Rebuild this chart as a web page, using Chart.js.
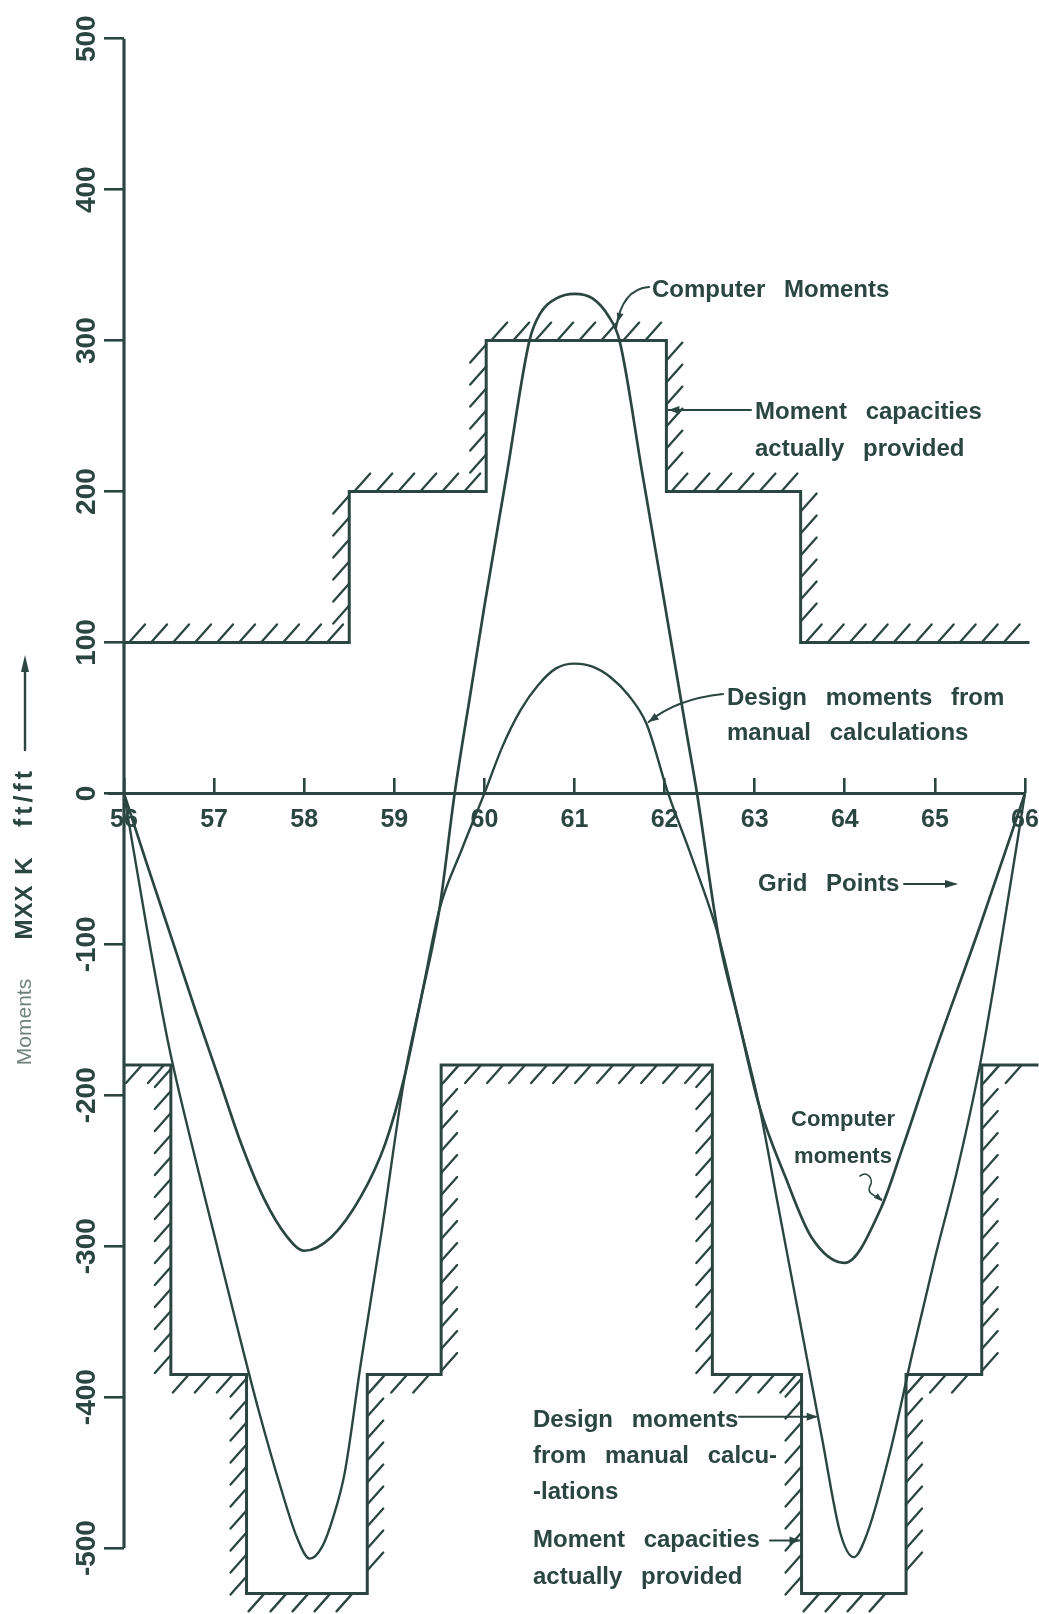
<!DOCTYPE html>
<html>
<head>
<meta charset="utf-8">
<script src="https://cdn.jsdelivr.net/npm/chart.js@4/dist/chart.umd.min.js"></script>
<style>
  html, body { margin: 0; padding: 0; background: #ffffff; }
  #wrap { position: relative; width: 1039px; height: 1614px; }
</style>
</head>
<body>
<div id="wrap"><canvas id="c"></canvas></div>
<script>
// ---------------- data ----------------
const gridPoints = [56, 57, 58, 59, 60, 61, 62, 63, 64, 65, 66];
const xTickLabels = ['56', '57', '58', '59', '60', '61', '62', '63', '64', '65', '66'];
const yTickValues = [-500, -400, -300, -200, -100, 0, 100, 200, 300, 400, 500];
const yTickLabels = ['-500', '-400', '-300', '-200', '-100', '0', '100', '200', '300', '400', '500'];

// Computer moments (MXX, K ft/ft)
const computerX = [56.0, 56.25, 56.54, 56.8, 57.06, 57.3, 57.55, 57.8, 58.0, 58.3, 58.63, 58.9, 59.12, 59.3, 59.5, 59.67,
  59.85, 60.0, 60.25, 60.5, 60.62, 60.8, 61.0, 61.2, 61.38, 61.5, 61.75, 62.0, 62.25, 62.36,
  62.6, 62.82, 63.05, 63.34, 63.63, 64.0, 64.4, 64.64, 64.95, 65.5, 66.0];
const computerY = [0, -46, -98, -145, -190, -232, -268, -293, -303, -294, -267, -232, -186, -135, -77, 0,
  68, 124, 212, 300, 318, 328, 331, 328, 316, 300, 213, 126, 38, 0,
  -95, -150, -207, -254, -294, -311, -275, -235, -180, -88, 0];

// Design moments from manual calculations
const designX = [56.0, 56.25, 56.5, 56.75, 57.0, 57.25, 57.5, 57.75, 57.92, 58.06, 58.2, 58.32, 58.45, 58.63, 58.85,
  59.12, 59.3, 59.5, 59.75, 60.0, 60.2, 60.4, 60.6, 60.8, 61.0, 61.2, 61.4, 61.6, 61.8, 62.04,
  62.3, 62.6, 62.82, 63.05, 63.25, 63.5, 63.75, 63.95, 64.1, 64.25, 64.5, 64.75, 65.0, 65.25, 65.5, 65.75, 66.0];
const designY = [0, -88, -168, -232, -292, -352, -410, -462, -493, -507, -499, -480, -450, -377, -294,
  -186, -135, -77, -37, 0, 31, 55, 72, 83, 86, 84, 77, 65, 46, 0,
  -42, -95, -150, -207, -270, -349, -428, -490, -506, -490, -437, -371, -308, -249, -180, -93, 0];

// Moment capacities actually provided (step functions)
const posCapEdges = [56, 58.5, 60.02, 62.02, 63.51, 66.05];
const posCapValues = [100, 200, 300, 200, 100];
const negCapEdges = [56, 56.52, 57.36, 58.7, 59.52, 62.53, 63.52, 64.68, 65.52, 66.15];
const negCapValues = [-180, -385, -530, -385, -180, -385, -530, -385, -180];

// axis extents drawn as lines
const yAxisSpan = [-500, 500];
const xAxisSpan = [55.82, 66];

// ---------------- helpers ----------------
const INK = '#2b4641';
const FAINT = '#6f827e';
const FONT = '"Liberation Sans", Arial, sans-serif';

function pairs(xs, ys) { return xs.map((v, i) => ({ x: v, y: ys[i] })); }
function stepPoints(edges, values) {
  const pts = values.map((v, i) => ({ x: edges[i], y: v }));
  pts.push({ x: edges[edges.length - 1], y: values[values.length - 1] });
  return pts;
}

function hatch(ctx, xs, ys, edges, values, side) {
  const dx = 16, dy = 18, gap = 22;
  for (let i = 0; i < values.length; i++) {
    const x0 = xs.getPixelForValue(edges[i]);
    const x1 = xs.getPixelForValue(edges[i + 1]);
    const yy = ys.getPixelForValue(values[i]);
    if (side > 0) {
      for (let px = x0 + 5; px <= x1 - dx + 1; px += gap) { ctx.moveTo(px, yy); ctx.lineTo(px + dx, yy - dy); }
    } else {
      for (let px = x0 + dx + 2; px <= x1 - 3; px += gap) { ctx.moveTo(px, yy); ctx.lineTo(px - dx, yy + dy); }
    }
  }
  for (let i = 1; i < values.length; i++) {
    const xx = xs.getPixelForValue(edges[i]);
    const ya = ys.getPixelForValue(values[i - 1]);
    const yb = ys.getPixelForValue(values[i]);
    const top = Math.min(ya, yb), bot = Math.max(ya, yb);
    const leftSide = side > 0 ? values[i] > values[i - 1] : values[i] < values[i - 1];
    if (leftSide) {
      for (let py = top + 4; py <= bot - dy + 2; py += gap) { ctx.moveTo(xx, py); ctx.lineTo(xx - dx, py + dy); }
    } else {
      for (let py = top + dy + 2; py <= bot - 3; py += gap) { ctx.moveTo(xx, py); ctx.lineTo(xx + dx, py - dy); }
    }
  }
}

function arrowHead(ctx, fx, fy, tx, ty, len, half) {
  const a = Math.atan2(ty - fy, tx - fx);
  ctx.beginPath();
  ctx.moveTo(tx, ty);
  ctx.lineTo(tx - len * Math.cos(a) + half * Math.sin(a), ty - len * Math.sin(a) - half * Math.cos(a));
  ctx.lineTo(tx - len * Math.cos(a) - half * Math.sin(a), ty - len * Math.sin(a) + half * Math.cos(a));
  ctx.closePath();
  ctx.fill();
}

function textLines(ctx, lines, x, y0, lh, align) {
  ctx.textAlign = align || 'left';
  lines.forEach((t, i) => ctx.fillText(t, x, y0 + i * lh));
}

const hatchPlugin = {
  id: 'hatch',
  afterDatasetsDraw(chart) {
    const { ctx, scales } = chart;
    ctx.save();
    ctx.strokeStyle = INK;
    ctx.lineWidth = 2.3;
    ctx.lineCap = 'round';
    ctx.beginPath();
    hatch(ctx, scales.x, scales.y, posCapEdges, posCapValues, 1);
    hatch(ctx, scales.x, scales.y, negCapEdges, negCapValues, -1);
    ctx.stroke();
    ctx.restore();
  }
};

const notesPlugin = {
  id: 'notes',
  afterDraw(chart) {
    const { ctx, scales: { x, y } } = chart;
    const P = (vx, vy) => [x.getPixelForValue(vx), y.getPixelForValue(vy)];
    ctx.save();
    ctx.fillStyle = INK;
    ctx.strokeStyle = INK;
    ctx.lineWidth = 2;
    ctx.lineCap = 'round';
    try { ctx.wordSpacing = '12px'; } catch (e) {}
    ctx.font = 'bold 24px ' + FONT;
    ctx.textBaseline = 'alphabetic';

    // --- Computer Moments (top)
    textLines(ctx, ['Computer Moments'], 652, 297, 0);
    let [ex, ey] = P(61.45, 307);
    ctx.beginPath(); ctx.moveTo(649, 287); ctx.quadraticCurveTo(622, 289, ex + 1, ey - 2); ctx.stroke();
    arrowHead(ctx, 625, 292, ex + 3, ey - 8, 9, 3.5);

    // --- Moment capacities actually provided (top)
    textLines(ctx, ['Moment capacities', 'actually provided'], 755, 419, 37);
    [ex, ey] = P(62.02, 254);
    ctx.beginPath(); ctx.moveTo(751, ey); ctx.lineTo(ex + 2, ey); ctx.stroke();
    arrowHead(ctx, 751, ey, ex + 2, ey, 11, 4);

    // --- Design moments from manual calculations (top)
    textLines(ctx, ['Design moments from', 'manual calculations'], 727, 705, 35);
    [ex, ey] = P(61.8, 46);
    ctx.beginPath(); ctx.moveTo(723, 694); ctx.quadraticCurveTo(676, 699, ex + 2, ey - 2); ctx.stroke();
    arrowHead(ctx, 676, 703, ex + 2, ey - 2, 10, 4);

    // --- Grid Points
    textLines(ctx, ['Grid Points'], 758, 891, 0);
    ctx.beginPath(); ctx.moveTo(904, 884); ctx.lineTo(955, 884); ctx.stroke();
    arrowHead(ctx, 904, 884, 958, 884, 13, 4);

    // --- Computer moments (bottom right)
    ctx.font = 'bold 22px ' + FONT;
    textLines(ctx, ['Computer', 'moments'], 843, 1126, 37, 'center');
    [ex, ey] = P(64.42, -271);
    ctx.lineWidth = 1.6;
    ctx.beginPath(); ctx.moveTo(860, 1176);
    ctx.bezierCurveTo(868, 1170, 874, 1180, 870, 1186);
    ctx.bezierCurveTo(866, 1194, 876, 1196, ex - 1, ey - 3);
    ctx.stroke();
    arrowHead(ctx, 872, 1192, ex, ey - 1, 9, 3);
    ctx.lineWidth = 2;

    // --- Design moments from manual calculations (bottom)
    ctx.font = 'bold 24px ' + FONT;
    textLines(ctx, ['Design moments', 'from manual calcu-', '-lations'], 533, 1427, 36);
    [ex, ey] = P(63.7, -413);
    ctx.beginPath(); ctx.moveTo(739, ey); ctx.lineTo(ex - 2, ey); ctx.stroke();
    arrowHead(ctx, 739, ey, ex, ey, 11, 4);

    // --- Moment capacities actually provided (bottom)
    textLines(ctx, ['Moment capacities', 'actually provided'], 533, 1547, 37);
    [ex, ey] = P(63.52, -495);
    ctx.beginPath(); ctx.moveTo(770, ey); ctx.lineTo(ex - 2, ey); ctx.stroke();
    arrowHead(ctx, 770, ey, ex - 1, ey, 11, 4);

    // --- vertical axis title
    const tx = 25;
    const rot = (txt, cy, font, color, spacing) => {
      ctx.save();
      ctx.translate(tx, cy);
      ctx.rotate(-Math.PI / 2);
      ctx.font = font;
      ctx.fillStyle = color;
      try { ctx.wordSpacing = '0px'; ctx.letterSpacing = spacing || '0px'; } catch (e) {}
      ctx.textAlign = 'center';
      ctx.textBaseline = 'middle';
      ctx.fillText(txt, 0, 0);
      ctx.restore();
    };
    rot('Moments', 1022, '21px ' + FONT, FAINT);
    rot('MXX', 912, 'bold 24px ' + FONT, INK, '1px');
    rot('K', 866, 'bold 24px ' + FONT, INK);
    rot('ft/ft', 797, 'bold 25px ' + FONT, INK, '4px');
    ctx.lineWidth = 2.4;
    ctx.beginPath(); ctx.moveTo(tx, 750); ctx.lineTo(tx, 670); ctx.stroke();
    arrowHead(ctx, tx, 750, tx, 655, 17, 4);

    ctx.restore();
  }
};

const lineDefaults = { pointRadius: 0, pointHoverRadius: 0, fill: false, clip: false, borderColor: INK };

new Chart(document.getElementById('c'), {
  type: 'line',
  data: {
    datasets: [
      Object.assign({}, lineDefaults, {
        label: 'Computer moments', data: pairs(computerX, computerY),
        borderWidth: 2.7, cubicInterpolationMode: 'monotone'
      }),
      Object.assign({}, lineDefaults, {
        label: 'Design moments from manual calculations', data: pairs(designX, designY),
        borderWidth: 2.4, cubicInterpolationMode: 'monotone'
      }),
      Object.assign({}, lineDefaults, {
        label: 'Moment capacities actually provided (+)', data: stepPoints(posCapEdges, posCapValues),
        borderWidth: 3, stepped: 'before'
      }),
      Object.assign({}, lineDefaults, {
        label: 'Moment capacities actually provided (-)', data: stepPoints(negCapEdges, negCapValues),
        borderWidth: 3, stepped: 'before'
      }),
      Object.assign({}, lineDefaults, {
        label: 'y axis', data: [{ x: gridPoints[0], y: yAxisSpan[0] }, { x: gridPoints[0], y: yAxisSpan[1] }],
        borderWidth: 3.2
      }),
      Object.assign({}, lineDefaults, {
        label: 'x axis', data: [{ x: xAxisSpan[0], y: 0 }, { x: xAxisSpan[1], y: 0 }],
        borderWidth: 3
      })
    ]
  },
  options: {
    responsive: true,
    maintainAspectRatio: false,
    devicePixelRatio: 1,
    animation: false,
    events: [],
    layout: { padding: { top: 1, bottom: 1, left: 0, right: 0.5 } },
    plugins: { legend: { display: false }, tooltip: { enabled: false }, title: { display: false } },
    scales: {
      x: {
        type: 'linear',
        min: 56, max: 66.15,
        position: { y: 0 },
        border: { display: false },
        grid: { display: true, drawOnChartArea: false, drawTicks: true, tickLength: -15,
                color: INK, tickColor: INK, tickWidth: 2.6, lineWidth: 2.6 },
        ticks: {
          autoSkip: false, maxRotation: 0, minRotation: 0, padding: 27, color: INK,
          font: { family: FONT, size: 25, weight: 'bold' },
          callback: (v, i) => xTickLabels[i]
        },
        afterBuildTicks: (s) => { s.ticks = gridPoints.map(v => ({ value: v })); },
        afterFit: (s) => { s.paddingLeft = 0; s.paddingRight = 0; s.paddingTop = 0; s.paddingBottom = 0; }
      },
      y: {
        type: 'linear',
        min: -543, max: 525,
        position: 'left',
        border: { display: false },
        grid: { display: true, drawOnChartArea: false, drawTicks: true, tickLength: 20,
                color: INK, tickColor: INK, tickWidth: 2.6, lineWidth: 2.6 },
        ticks: {
          autoSkip: false, minRotation: 90, maxRotation: 90, crossAlign: 'center', padding: -11,
          color: INK, font: { family: FONT, size: 28, weight: 'bold' },
          callback: (v, i) => yTickLabels[i]
        },
        afterBuildTicks: (s) => { s.ticks = yTickValues.map(v => ({ value: v })); },
        afterFit: (s) => { s.width = 124; s.paddingTop = 0; s.paddingBottom = 0; s.paddingLeft = 0; s.paddingRight = 0; }
      }
    }
  },
  plugins: [hatchPlugin, notesPlugin]
});
</script>
</body>
</html>
